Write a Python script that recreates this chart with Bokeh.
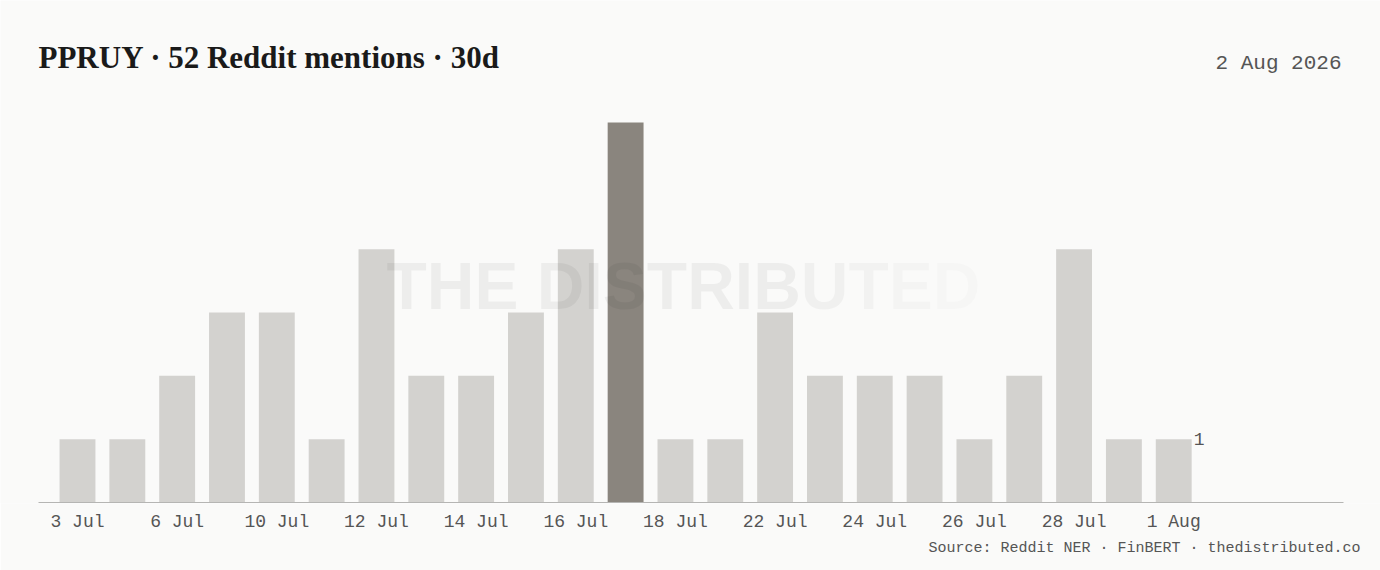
from bokeh.plotting import figure
from bokeh.models import Range1d, FixedTicker, Title
from bokeh.embed import file_html
from bokeh.resources import INLINE
from bokeh.core.properties import value

# ---- data ----
dates = ["3 Jul", "5 Jul", "6 Jul", "8 Jul", "10 Jul", "11 Jul", "12 Jul", "13 Jul",
         "14 Jul", "15 Jul", "16 Jul", "17 Jul", "18 Jul", "20 Jul", "22 Jul", "23 Jul",
         "24 Jul", "25 Jul", "26 Jul", "27 Jul", "28 Jul", "30 Jul", "1 Aug"]
mentions = [1, 1, 2, 3, 3, 1, 4, 2, 2, 3, 4, 6, 1, 1, 3, 2, 2, 2, 1, 2, 4, 1, 1]
title_text = "PPRUY · 52 Reddit mentions · 30d"
date_text = "2 Aug 2026"
source_text = "Source: Reddit NER · FinBERT · thedistributed.co"
watermark = "THE DISTRIBUTED"

BG = "#fafaf9"
BAR = "#d3d2cf"
PEAK = "#8a857e"
MONO = "Liberation Mono"

n = len(mentions)
xs = list(range(n))
peak = max(mentions)
colors = [PEAK if v == peak else BAR for v in mentions]

W, H = 1380, 570
BASE = 502          # baseline pixel row
ppu = 1305 / 26.19  # pixels per bar slot
ypu = 63.33         # pixels per mention

def dx(px):
    return (px - 77) / ppu

def dy(py):
    return (BASE - py) / ypu

p = figure(width=W, height=H, output_backend="svg", toolbar_location=None,
           x_range=Range1d(dx(0), dx(W)), y_range=Range1d(dy(BASE + 1), dy(0)),
           y_axis_location=None, min_border_left=0, min_border_right=0,
           min_border_top=0, min_border_bottom=H - BASE - 1)
p.background_fill_color = BG
p.border_fill_color = BG
p.outline_line_color = None
p.grid.visible = False

p.vbar(x=xs, top=mentions, width=0.72, bottom=0, fill_color=colors, line_color=None)

# baseline axis line
p.segment(x0=[dx(38)], y0=[0], x1=[dx(1343)], y1=[0], line_color="#b5b5b3", line_width=1.2)

# watermark (per-letter for fade)
em = {"T": .611, "H": .722, "E": .667, " ": .278, "D": .722, "I": .278, "S": .667,
      "R": .722, "B": .722, "U": .722}
fs = 66
px = 386
alphas = [0.05] * 11 + [0.04, 0.03, 0.022, 0.015]
for ch, a in zip(watermark, alphas):
    if ch != " ":
        p.text(x=[dx(px)], y=[dy(285)], text=[ch],
               text_font=value("Liberation Sans"), text_font_style="bold",
               text_font_size=f"{fs}px", text_color="#000000", text_alpha=a,
               text_baseline="middle", text_align="left")
    px += em[ch] * fs

# last value label
p.text(x=[n - 1 + 0.36 + 2 / ppu], y=[mentions[-1]], text=[str(mentions[-1])],
       text_font=value(MONO), text_font_size="18px", text_color="#555555",
       text_baseline="middle", text_align="left")

# header texts
p.text(x=[dx(38)], y=[dy(57)], text=[title_text], text_font=value("Liberation Serif"),
       text_font_style="bold", text_font_size="31px", text_color="#1a1a1a",
       text_baseline="middle", text_align="left")
p.text(x=[dx(1341)], y=[dy(63)], text=[date_text], text_font=value(MONO),
       text_font_size="21px", text_color="#555555",
       text_baseline="middle", text_align="right")

ax = p.xaxis[0]
ax.ticker = FixedTicker(ticks=list(range(0, n, 2)))
ax.major_label_overrides = {i: dates[i] for i in range(0, n, 2)}
ax.axis_line_color = None
ax.major_tick_line_color = None
ax.minor_tick_line_color = None
ax.major_label_standoff = 2
ax.major_label_text_font = MONO
ax.major_label_text_font_size = "18px"
ax.major_label_text_color = "#555555"

p.add_layout(Title(text=source_text, align="right", offset=20, standoff=7,
                   text_font=MONO, text_font_size="15px", text_font_style="normal",
                   text_color="#555555"), "below")

html = file_html(p, INLINE)
html = html.replace("<body>", f'<body style="background:{BG};margin:0">', 1)
open("out.html", "w").write(html)
